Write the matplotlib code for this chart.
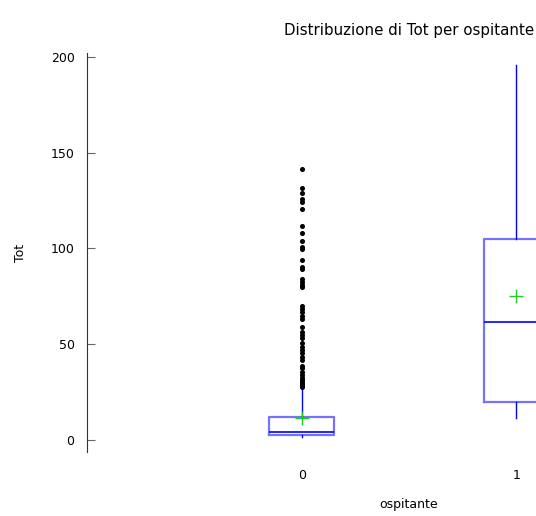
import numpy as np
import matplotlib
matplotlib.use("Agg")
import matplotlib.pyplot as plt

# categories and box statistics
categories = ["0", "1"]
q1 = [2.6, 19.8]
med = [4.2, 61.8]
q3 = [12.2, 105.0]
wlo = [1.5, 11.2]
whi = [27.5, 196.0]
means = [11.4, 75.0]

outliers_0 = [141.5, 131.6, 129.0, 125.8, 124.3, 120.6, 111.7, 108.1, 103.9, 100.8,
              99.7, 94.0, 90.3, 89.3, 84.1, 82.5, 81.0, 79.9, 70.0, 68.4, 66.8, 64.8,
              63.2, 59.0, 56.4, 54.8, 53.3, 50.7, 48.6, 47.0, 45.4, 43.3, 41.8, 38.6,
              37.6, 35.5, 33.9, 32.4, 31.2, 30.3, 29.4, 28.7, 28.2, 27.7]
outliers_1 = []

stats = []
fl = [outliers_0, outliers_1]
for i in range(len(categories)):
	stats.append(dict(q1=q1[i], med=med[i], q3=q3[i], whislo=wlo[i], whishi=whi[i],
	                  mean=means[i], fliers=fl[i], label=categories[i]))

plt.rcParams['font.family'] = ['DejaVu Sans']
plt.rcParams['font.size'] = 9

fig = plt.figure(figsize=(5.36, 5.16), dpi=100)
ax = fig.add_axes([87/536, 64/516, 644/536, 399/516])

ax.bxp(stats, positions=[0, 1], widths=0.3, showmeans=True, showcaps=False,
       boxprops=dict(color=(0, 0, 1, 0.55), linewidth=1.6),
       medianprops=dict(color='blue', linewidth=1.2),
       whiskerprops=dict(color='blue', linewidth=1.0),
       meanprops=dict(marker='+', markeredgecolor='#22cc22', markersize=10, markeredgewidth=1.0),
       flierprops=dict(marker='o', markerfacecolor='black', markeredgecolor='black', markersize=2.6))

ax.set_xlim(-1, 2)
ax.set_ylim(-6.3, 202.1)
ax.set_yticks([0, 50, 100, 150, 200])
ax.set_xticks([0, 1])
ax.set_xticklabels(categories)

for s in ['top', 'right', 'bottom']:
	ax.spines[s].set_visible(False)
ax.spines['left'].set_color('#333333')
ax.tick_params(axis='y', direction='in', length=6, color='#666666', pad=9)
ax.tick_params(axis='x', length=0, pad=12)

ax.set_title("Distribuzione di Tot per ospitante", pad=13)
ax.set_xlabel("ospitante", labelpad=12)
ax.set_ylabel("Tot", labelpad=17)

fig.savefig("out.png", dpi=100)
